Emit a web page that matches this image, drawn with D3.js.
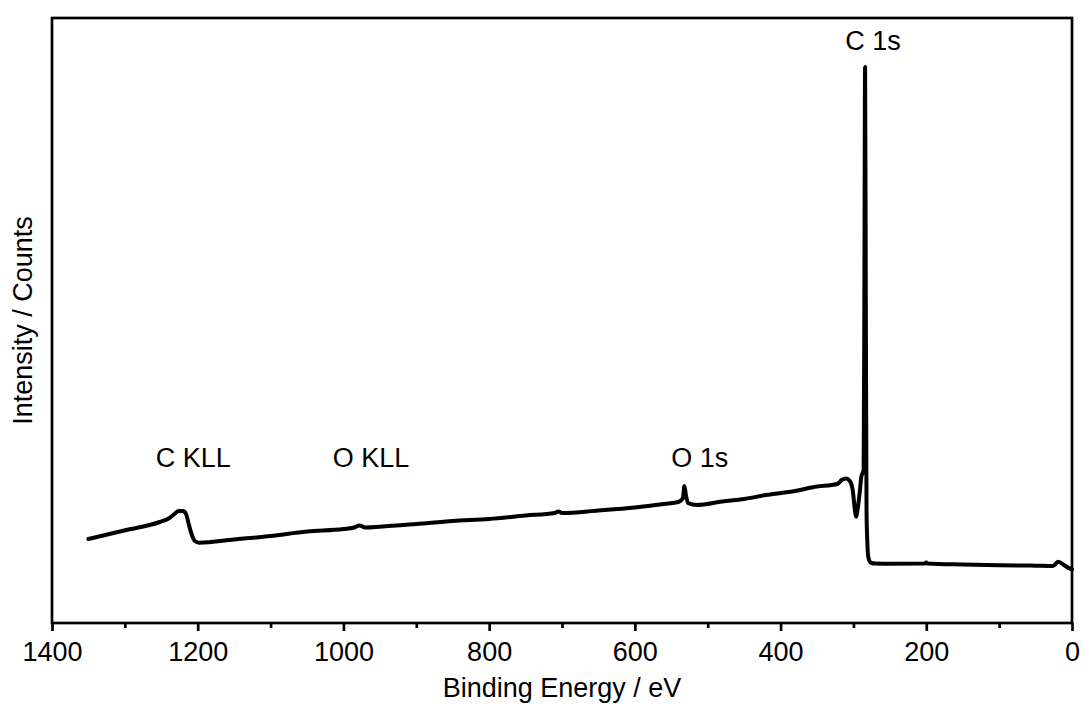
<!DOCTYPE html>
<html>
<head>
<meta charset="utf-8">
<script src="https://cdn.jsdelivr.net/npm/d3@7"></script>
<style>
  body { margin: 0; background: #fff; }
  text { font-family: "Liberation Sans", Arial, sans-serif; fill: #000; }
</style>
</head>
<body>
<div id="chart-container"></div>
<script>
// binding energy (eV)
const energy = [
  1350, 1298, 1252, 1240, 1232, 1226, 1220, 1216, 1212, 1208, 1204, 1198,
  1150, 1100, 1050, 1000, 985, 978, 970, 950, 900, 850, 800, 750, 710, 705,
  700, 650, 600, 560, 540, 534, 532, 530, 527, 515, 480, 450, 420, 380, 350,
  330, 322, 316, 310, 305, 301, 298, 296.5, 294, 291, 289, 287.5, 286, 285,
  284, 283, 282, 281, 280, 278, 275, 270, 250, 202, 200, 198, 150, 100, 50,
  26, 19, 14, 8, 0
];
// intensity (counts)
const counts = [
  16800, 18600, 20200, 20900, 21800, 22400, 22400, 21800, 19600, 17600, 16400, 16060,
  16700, 17400, 18300, 18800, 19100, 19500, 19100, 19260, 19800, 20400, 20800, 21500, 22000, 22300,
  22000, 22500, 23100, 23800, 24200, 25000, 27400, 25600, 24000, 23600, 24300, 24800, 25600, 26400, 27300,
  27600, 27800, 28600, 28900, 28400, 26600, 22600, 21260, 23000, 26600, 29400, 29940, 30600, 64600,
  111200, 64600, 22000, 16600, 13600, 12400, 12000, 11900, 11860, 11900, 12100, 11900, 11700, 11560, 11460,
  11400, 12260, 11900, 11300, 10700
];
const xTicks = [1400, 1200, 1000, 800, 600, 400, 200, 0];
const xMinorTicks = [1300, 1100, 900, 700, 500, 300, 100];
const peakNames = ["C KLL", "O KLL", "O 1s", "C 1s"];
const peakEnergy = [1206, 962, 511, 273];
const peakCounts = [31200, 31200, 31200, 114600];

const width = 1083;
const height = 704;
const margins = { top: 18, right: 11, bottom: 81, left: 52 };
const chartWidth = width - margins.left - margins.right;
const chartHeight = height - margins.top - margins.bottom;

const data = energy.map((e, i) => ({ e: e, c: counts[i] }));

const xScale = d3.scaleLinear().domain([1400, 0]).range([0, chartWidth]);
const yScale = d3.scaleLinear().domain([0, 121000]).range([chartHeight, 0]);

const svg = d3
  .select("#chart-container")
  .append("svg")
  .attr("width", width)
  .attr("height", height);

const chart = svg
  .append("g")
  .attr("transform", `translate(${margins.left}, ${margins.top})`);

// minor ticks
chart
  .append("g")
  .attr("transform", `translate(0, ${chartHeight})`)
  .call(d3.axisBottom(xScale).tickValues(xMinorTicks).tickSize(5).tickFormat(""))
  .call(g => g.select(".domain").remove())
  .call(g => g.selectAll("line").attr("stroke-width", 2.7));

// major ticks
chart
  .append("g")
  .attr("transform", `translate(0, ${chartHeight})`)
  .call(d3.axisBottom(xScale).tickValues(xTicks).tickSize(8).tickPadding(11).tickFormat(d3.format("d")))
  .call(g => g.select(".domain").remove())
  .call(g => g.selectAll("line").attr("stroke-width", 2.7))
  .call(g => g.selectAll("text").attr("font-size", 27).attr("font-family", null));

const line = d3
  .line()
  .x(d => xScale(d.e))
  .y(d => yScale(d.c))
  .curve(d3.curveMonotoneX);

chart
  .append("path")
  .datum(data)
  .attr("fill", "none")
  .attr("stroke", "#000")
  .attr("stroke-width", 4)
  .attr("stroke-linejoin", "round")
  .attr("stroke-linecap", "round")
  .attr("d", line);

// frame
chart
  .append("rect")
  .attr("x", 0)
  .attr("y", 0)
  .attr("width", chartWidth)
  .attr("height", chartHeight)
  .attr("fill", "none")
  .attr("stroke", "#000")
  .attr("stroke-width", 2.7);

chart
  .selectAll(".peak-label")
  .data(peakNames)
  .enter()
  .append("text")
  .attr("class", "peak-label")
  .attr("x", (d, i) => xScale(peakEnergy[i]))
  .attr("y", (d, i) => yScale(peakCounts[i]))
  .attr("text-anchor", "middle")
  .attr("font-size", 27)
  .text(d => d);

svg
  .append("text")
  .attr("x", margins.left + chartWidth / 2)
  .attr("y", 697)
  .attr("text-anchor", "middle")
  .attr("font-size", 27)
  .text("Binding Energy / eV");

svg
  .append("text")
  .attr("transform", `translate(32, ${margins.top + chartHeight / 2}) rotate(-90)`)
  .attr("text-anchor", "middle")
  .attr("font-size", 27)
  .text("Intensity / Counts");
</script>
</body>
</html>
